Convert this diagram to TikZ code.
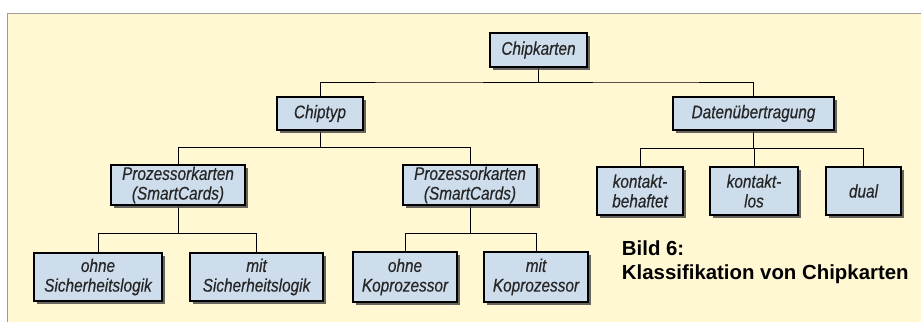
\documentclass[tikz,border=0pt]{standalone}
\usepackage{fontspec}
\usepackage{tikz}
\usetikzlibrary{calc, shadows, backgrounds}

\newfontfamily\cardfont[FakeStretch=0.84, FakeBold=0.4]{Liberation Sans Italic}
\newfontfamily\capfont{Liberation Sans Bold}

\definecolor{paper}{HTML}{FFF8D2}
\definecolor{cardblue}{HTML}{CDDDEC}
\definecolor{framegray}{HTML}{9C9C9C}

\tikzset{
  card/.style={draw=black, line width=1.7pt, fill=cardblue, align=center,
    inner sep=1pt, text=black!85, font=\cardfont\fontsize{13}{14}\selectfont,
    drop shadow={shadow xshift=2.2pt, shadow yshift=-2.2pt, fill=black!70, opacity=0.85}},
  branch/.style={to path={(\tikztostart) |- ($(\tikztostart)!#1!(\tikztotarget)$) -| (\tikztotarget)}},
  branch/.default=0.5
}

\begin{document}
\begin{tikzpicture}[x=0.025cm, y=-0.025cm]
    \useasboundingbox (0,0) rectangle (921,322);

    % paper panel, grey edge on top and left
    \begin{scope}[on background layer]
        \fill[paper] (7,13) rectangle (921,322);
        \draw[framegray, line width=0.7pt] (7,322) -- (7,13) -- (921,13);
    \end{scope}

    % root and first level
    \node[card, minimum width=2.425cm, minimum height=0.85cm] (karten) at (538.5,50) {Chipkarten};
    \node[card, minimum width=2.15cm, minimum height=0.825cm] (typ) at (320,113.5) {Chiptyp};
    \node[card, minimum width=4.025cm, minimum height=0.825cm] (daten) at (753.5,113.5) {Datenübertragung};

    % chip types
    \node[card, minimum width=3.35cm, minimum height=0.98cm] (prozA) at (178,185) {Prozessorkarten\\(SmartCards)};
    \node[card, minimum width=3.35cm, minimum height=0.98cm] (prozB) at (470,185) {Prozessorkarten\\(SmartCards)};

    % transfer kinds
    \node[card, minimum width=2.15cm, minimum height=1.2cm] (behaftet) at (640,191) {kontakt-\\behaftet};
    \node[card, minimum width=2.2cm, minimum height=1.2cm] (los) at (754,191) {kontakt-\\los};
    \node[card, minimum width=1.875cm, minimum height=1.2cm] (dual) at (863.5,191) {dual};

    % bottom row
    \node[card, minimum width=3.2cm, minimum height=1.2cm] (ohneS) at (98,277) {ohne\\Sicherheitslogik};
    \node[card, minimum width=3.325cm, minimum height=1.2cm] (mitS) at (256.5,277) {mit\\Sicherheitslogik};
    \node[card, minimum width=2.6cm, minimum height=1.25cm] (ohneK) at (405,277) {ohne\\Koprozessor};
    \node[card, minimum width=2.6cm, minimum height=1.25cm] (mitK) at (536,277) {mit\\Koprozessor};

    % connectors, behind the cards
    \begin{scope}[on background layer, line width=1.2pt, black!90]
        \foreach \a/\b/\f in {karten/typ/0.5, karten/daten/0.5, typ/prozA/0.5, typ/prozB/0.5,
                              daten/behaftet/0.5, daten/los/0.5, daten/dual/0.5,
                              prozA/ohneS/0.6, prozA/mitS/0.6, prozB/ohneK/0.6, prozB/mitK/0.6}{
            \draw (\a.south) to[branch=\f] (\b.north);
        }
    \end{scope}

    % caption
    \node[anchor=base west, align=left, font=\capfont\fontsize{14.5}{17}\selectfont]
        (caption) at (617,279) {Bild 6:\\Klassifikation von Chipkarten};
\end{tikzpicture}
\end{document}
